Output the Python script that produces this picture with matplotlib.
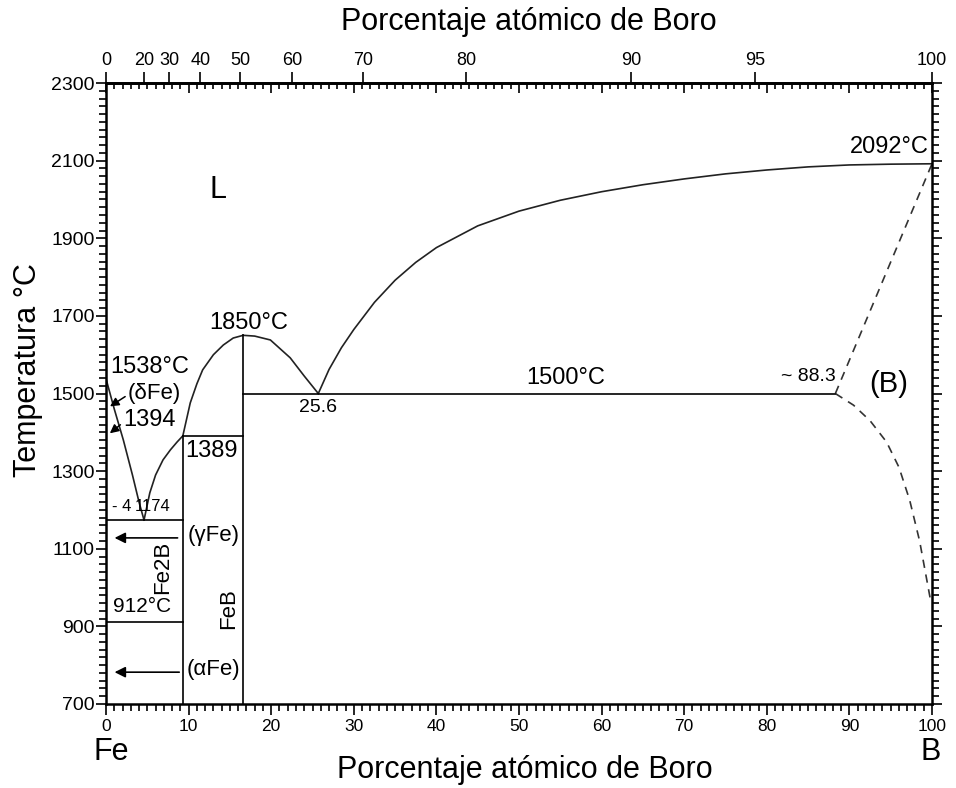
import numpy as np
import matplotlib
matplotlib.use("Agg")
import matplotlib.pyplot as plt

plt.rcParams['font.family'] = ['Liberation Sans', 'DejaVu Sans']

# liquidus branches (wt% B, degC)
liq_fe_x = [0, 1.0, 2.1, 3.2, 4.0, 4.6]
liq_fe_t = [1538, 1460, 1380, 1290, 1220, 1174]

liq_fe2b_x = [4.6, 5.3, 6.0, 6.9, 7.8, 8.6, 9.3, 10.2, 11.0, 11.7, 13.0, 14.2, 15.4, 16.6]
liq_fe2b_t = [1174, 1244, 1290, 1329, 1355, 1375, 1391, 1476, 1525, 1561, 1600, 1625, 1643, 1650]

liq_feb_x = [16.6, 18.0, 19.9, 22.3, 24.0, 25.7]
liq_feb_t = [1650, 1648, 1638, 1592, 1545, 1500]

liq_b_x = [25.7, 27, 28.5, 30, 32.5, 35, 37.5, 40, 45, 50, 55, 60, 65, 70, 75, 80, 85, 90, 95, 100]
liq_b_t = [1500, 1562, 1618, 1665, 1735, 1792, 1838, 1876, 1932, 1970, 1998, 2020, 2038, 2053,
           2066, 2076, 2084, 2089, 2091, 2092]

dash_up_x = [88.3, 100]
dash_up_t = [1500, 2092]
dash_lo_x = [88.3, 90.5, 92.5, 94.5, 96.0, 97.3, 98.5, 99.8]
dash_lo_t = [1500, 1470, 1430, 1375, 1310, 1225, 1120, 970]

# invariant lines
fe2b_wt = 9.3
feb_wt = 16.6
eut_b_t = 1500
perit_t = 1391
eut_fe_t = 1174
alpha_gamma_t = 912

top_labels = [0, 20, 30, 40, 50, 60, 70, 80, 90, 95, 100]


def at2wt(a):
    a = np.asarray(a, dtype=float)
    return 10.81 * a / (10.81 * a + 55.845 * (100 - a)) * 100


def wt2at(w):
    w = np.asarray(w, dtype=float)
    return (w / 10.81) / (w / 10.81 + (100 - w) / 55.845) * 100


fig = plt.figure(figsize=(9.56, 7.88), dpi=100)
ax = fig.add_axes([0.1109, 0.1066, 0.864, 0.788])

lw = 1.2
ax.plot(liq_fe_x, liq_fe_t, color='#222222', lw=lw)
ax.plot(liq_fe2b_x, liq_fe2b_t, color='#222222', lw=lw)
ax.plot(liq_feb_x, liq_feb_t, color='#222222', lw=lw)
ax.plot(liq_b_x, liq_b_t, color='#222222', lw=lw)
ax.plot(dash_up_x, dash_up_t, color='#333333', lw=lw, ls=(0, (5, 4)))
ax.plot(dash_lo_x, dash_lo_t, color='#333333', lw=lw, ls=(0, (5, 4)))

ax.plot([feb_wt, 88.3], [eut_b_t, eut_b_t], color='black', lw=lw)
ax.plot([fe2b_wt, feb_wt], [perit_t, perit_t], color='black', lw=lw)
ax.plot([0, fe2b_wt], [eut_fe_t, eut_fe_t], color='black', lw=lw)
ax.plot([0, fe2b_wt], [alpha_gamma_t, alpha_gamma_t], color='black', lw=lw)
ax.plot([fe2b_wt, fe2b_wt], [700, perit_t], color='black', lw=lw)
ax.plot([feb_wt, feb_wt], [700, 1650], color='black', lw=lw)

arrow = dict(arrowstyle='-|>', color='black', lw=1.2, mutation_scale=16)
ax.annotate('', xy=(0.7, 1128), xytext=(9.0, 1128), arrowprops=arrow)
ax.annotate('', xy=(0.7, 782), xytext=(9.2, 782), arrowprops=arrow)
small = dict(arrowstyle='-|>', color='black', lw=1.1, mutation_scale=13)
ax.annotate('', xy=(0.2, 1463), xytext=(2.6, 1496), arrowprops=small)
ax.annotate('', xy=(0.2, 1393), xytext=(2.0, 1424), arrowprops=small)

# labels
ax.text(13.6, 2025, 'L', fontsize=22, ha='center', va='center')
ax.text(99.6, 2106, '2092°C', fontsize=17, ha='right', va='bottom')
ax.text(17.3, 1682, '1850°C', fontsize=17, ha='center', va='center')
ax.text(0.5, 1569, '1538°C', fontsize=17, ha='left', va='center')
ax.text(2.6, 1499, '(δFe)', fontsize=16, ha='left', va='center')
ax.text(2.1, 1432, '1394', fontsize=17, ha='left', va='center')
ax.text(9.6, 1352, '1389', fontsize=17, ha='left', va='center')
ax.text(25.7, 1465, '25.6', fontsize=14, ha='center', va='center')
ax.text(55.6, 1540, '1500°C', fontsize=17, ha='center', va='center')
ax.text(88.3, 1545, '~ 88.3', fontsize=14, ha='right', va='center')
ax.text(94.8, 1525, '(B)', fontsize=21, ha='center', va='center')
ax.text(0.7, 1208, '- 4', fontsize=12, ha='left', va='center')
ax.text(3.5, 1208, '1174', fontsize=12, ha='left', va='center')
ax.text(9.9, 1133, '(γFe)', fontsize=16, ha='left', va='center')
ax.text(6.8, 1052, 'Fe2B', fontsize=16, ha='center', va='center', rotation=90)
ax.text(0.85, 950, '912°C', fontsize=15, ha='left', va='center')
ax.text(14.8, 947, 'FeB', fontsize=16, ha='center', va='center', rotation=90)
ax.text(9.8, 788, '(αFe)', fontsize=16, ha='left', va='center')

ax.set_xlim(0, 100)
ax.set_ylim(700, 2300)

ax.set_xticks(range(0, 101, 10))
ax.set_xticks(range(0, 101, 1), minor=True)
ax.set_yticks(range(700, 2301, 200))
ax.set_yticks(range(700, 2301, 20), minor=True)
ax.tick_params(axis='x', which='both', direction='out', top=False, labelsize=12.5, pad=3, width=1.2)
ax.tick_params(axis='x', which='major', length=8)
ax.tick_params(axis='x', which='minor', length=5)
ax.tick_params(axis='y', which='both', direction='out', left=True, right=True, labelsize=14,
               pad=1, width=1.2)
ax.tick_params(axis='y', which='major', length=7)
ax.tick_params(axis='y', which='minor', length=5)
for s in ax.spines.values():
    s.set_linewidth(1.8)

# inward ticks on top edge
sec_in = ax.secondary_xaxis('top')
sec_in.set_xticks(range(0, 101, 10))
sec_in.set_xticks(range(0, 101, 1), minor=True)
sec_in.tick_params(axis='x', which='both', direction='in', labeltop=False, width=1.2)
sec_in.tick_params(axis='x', which='major', length=7)
sec_in.tick_params(axis='x', which='minor', length=4.5)
sec_in.spines['top'].set_linewidth(1.8)

# atomic percent scale on top
sec_at = ax.secondary_xaxis('top', functions=(wt2at, at2wt))
sec_at.set_xticks(top_labels)
sec_at.set_xticklabels([str(v) for v in top_labels])
sec_at.xaxis.set_minor_locator(matplotlib.ticker.NullLocator())
sec_at.tick_params(axis='x', which='major', direction='out', length=8, width=1.2,
                   labelsize=13, pad=2)
sec_at.spines['top'].set_linewidth(1.8)

fig.text(0.549, 0.023, 'Porcentaje atómico de Boro', fontsize=22, ha='center', va='center')
fig.text(0.553, 0.972, 'Porcentaje atómico de Boro', fontsize=22, ha='center', va='center')
fig.text(0.029, 0.53, 'Temperatura °C', fontsize=22, ha='center', va='center', rotation=90)
fig.text(0.116, 0.046, 'Fe', fontsize=22, ha='center', va='center')
fig.text(0.973, 0.046, 'B', fontsize=22, ha='center', va='center')

fig.savefig('out.png', dpi=100)
